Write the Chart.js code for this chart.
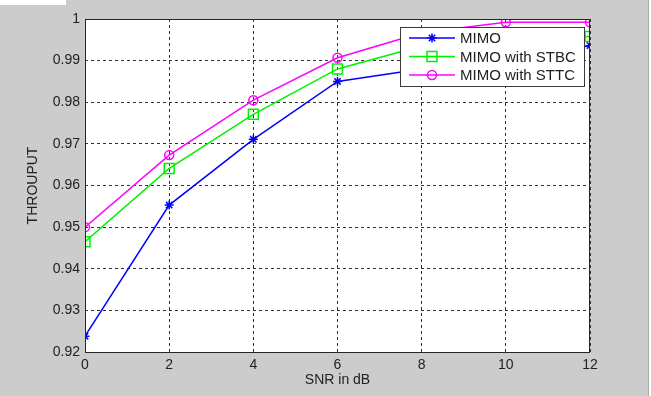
<!DOCTYPE html>
<html>
<head>
<meta charset="utf-8">
<script src="https://cdn.jsdelivr.net/npm/chart.js@4"></script>
<style>
  html, body { margin: 0; padding: 0; background: #cccccc; }
  #wrap { position: relative; width: 651px; height: 396px; overflow: hidden; }
  #strip { position: absolute; left: 0; top: 0; width: 66px; height: 5px; background: #fff; }
  #edge { position: absolute; right: 0; top: 0; width: 2px; height: 396px; background: #fff; border-left: 1px solid #aaa; }
  canvas { position: absolute; left: 0; top: 0; }
</style>
</head>
<body>
<div id="wrap">
  <canvas id="grafico" width="651" height="396"></canvas>
  <div id="strip"></div>
  <div id="edge"></div>
</div>
<script>
  // valores
  const snr = [0, 2, 4, 6, 8, 10, 12];
  const mimo = [0.9238, 0.9553, 0.9711, 0.9850, 0.9880, 0.9905, 0.9936];
  const mimoStbc = [0.9465, 0.9641, 0.9771, 0.9880, 0.9935, 0.9950, 0.9958];
  const mimoSttc = [0.9500, 0.9673, 0.9805, 0.9907, 0.9967, 0.9992, 0.9992];
  const nomes = ["MIMO", "MIMO with STBC", "MIMO with STTC"];
  const xTicks = [0, 2, 4, 6, 8, 10, 12];
  const yTicks = [0.92, 0.93, 0.94, 0.95, 0.96, 0.97, 0.98, 0.99, 1];

  const fonte = "'Liberation Sans', Arial, sans-serif";

  function pontos(ys) {
    return snr.map((x, i) => ({ x: x, y: ys[i] }));
  }

  const series = [
    { label: nomes[0], data: pontos(mimo), cor: "#0000ff", estilo: "star", raio: 4.5 },
    { label: nomes[1], data: pontos(mimoStbc), cor: "#00f000", estilo: "rect", raio: 7 },
    { label: nomes[2], data: pontos(mimoSttc), cor: "#ff00ff", estilo: "circle", raio: 4.5 }
  ];

  // fundo branco + moldura da area do grafico
  const moldura = {
    id: "moldura",
    beforeDraw(chart) {
      const a = chart.chartArea, ctx = chart.ctx;
      ctx.save();
      ctx.fillStyle = "#ffffff";
      ctx.fillRect(a.left, a.top, a.right - a.left, a.bottom - a.top);
      ctx.restore();
    },
    afterDatasetsDraw(chart) {
      const a = chart.chartArea, ctx = chart.ctx;
      ctx.save();
      ctx.strokeStyle = "#262626";
      ctx.lineWidth = 1;
      ctx.strokeRect(a.left + 0.5, a.top + 0.5, a.right - a.left - 1, a.bottom - a.top);
      ctx.restore();
    }
  };

  // legenda no estilo do matlab, desenhada por cima das linhas
  const legenda = {
    id: "legenda",
    afterDraw(chart) {
      const ctx = chart.ctx;
      const x0 = 400, y0 = 27, w = 184, h = 59;
      ctx.save();
      ctx.fillStyle = "#ffffff";
      ctx.fillRect(x0, y0, w, h);
      ctx.strokeStyle = "#3a3a3a";
      ctx.lineWidth = 1;
      ctx.strokeRect(x0 + 0.5, y0 + 0.5, w, h);
      chart.data.datasets.forEach((ds, i) => {
        const y = y0 + 11 + i * 18.5;
        ctx.strokeStyle = ds.borderColor;
        ctx.lineWidth = 1.5;
        ctx.beginPath();
        ctx.moveTo(409, y);
        ctx.lineTo(455, y);
        ctx.stroke();
        ctx.fillStyle = "rgba(0,0,0,0)";
        ctx.lineWidth = 1.5;
        Chart.helpers.drawPoint(ctx, {
          pointStyle: ds.pointStyle, radius: ds.pointRadius, rotation: 0, borderWidth: 1.5
        }, 432, y);
        ctx.fillStyle = "#222";
        ctx.font = "15px " + fonte;
        ctx.textBaseline = "middle";
        ctx.textAlign = "left";
        ctx.fillText(ds.label, 460, y + 1);
      });
      ctx.restore();
    }
  };

  new Chart(document.getElementById("grafico"), {
    type: "line",
    data: {
      datasets: series.map(s => ({
        label: s.label,
        data: s.data,
        borderColor: s.cor,
        backgroundColor: "rgba(0,0,0,0)",
        borderWidth: 1.5,
        pointStyle: s.estilo,
        pointRadius: s.raio,
        pointBorderColor: s.cor,
        pointBackgroundColor: "rgba(0,0,0,0)",
        pointBorderWidth: 1.5,
        tension: 0
      }))
    },
    options: {
      responsive: false,
      animation: false,
      layout: { padding: { top: 19, right: 61, left: 0, bottom: 0 } },
      plugins: {
        legend: { display: false },
        tooltip: { enabled: false }
      },
      scales: {
        x: {
          type: "linear",
          min: 0, max: 12,
          afterFit: s => { s.height = 44; },
          afterBuildTicks: s => { s.ticks = xTicks.map(v => ({ value: v })); },
          ticks: { color: "#222", padding: 5, font: { family: fonte, size: 14 }, maxRotation: 0 },
          grid: { color: "#333", drawTicks: false, tickBorderDash: [3, 3] },
          border: { display: false, dash: [3, 3] },
          title: { display: true, text: "SNR in dB", color: "#222", font: { family: fonte, size: 14 }, padding: { bottom: 7 } }
        },
        y: {
          min: 0.92, max: 1,
          afterFit: s => { s.width = 85; },
          afterBuildTicks: s => { s.ticks = yTicks.map(v => ({ value: v })); },
          ticks: {
            color: "#222", padding: 5, font: { family: fonte, size: 14 },
            callback: v => String(Number(v.toFixed(2)))
          },
          grid: { color: "#333", drawTicks: false },
          border: { display: false, dash: [3, 3] },
          title: { display: true, text: "THROUPUT", color: "#222", font: { family: fonte, size: 14 }, padding: { top: 25 } }
        }
      }
    },
    plugins: [moldura, legenda]
  });
</script>
</body>
</html>
